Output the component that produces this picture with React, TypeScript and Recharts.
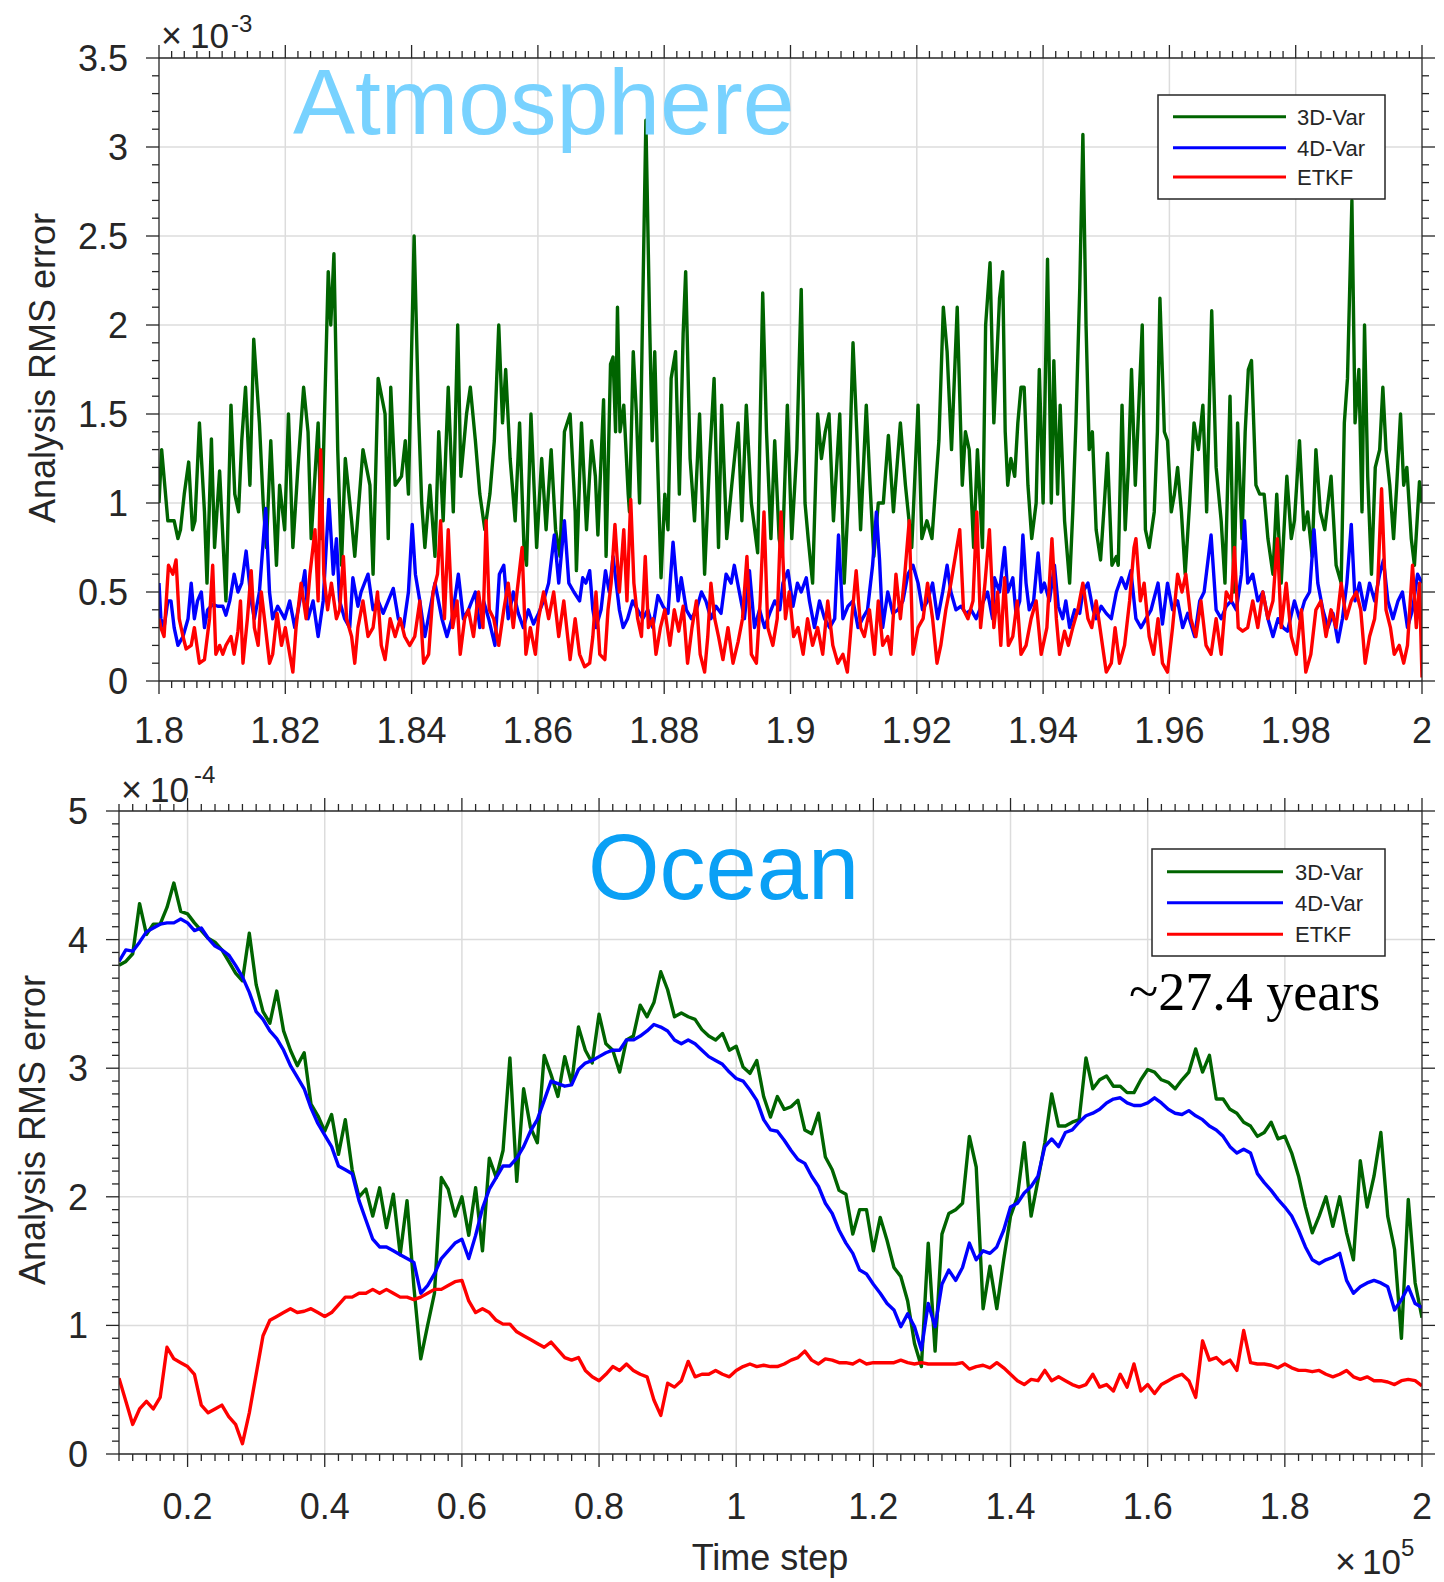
import React from "react";
import { LineChart, Line, XAxis, YAxis, ReferenceLine } from "recharts";

// Values are in units of the axis multiplier: x10^-3 (atmosphere), x10^-4 (ocean).
// Atmosphere series: [time step, analysis RMS error]
const atmos3DVar: [number, number][] = [
  [180000, 1.0], [180042, 1.3], [180140, 0.9], [180240, 0.9], [180300, 0.8], [180340, 0.85], [180400, 1.05], [180470, 1.23],
  [180530, 0.85], [180570, 0.9], [180640, 1.45], [180720, 0.95], [180760, 0.55], [180830, 1.36], [180880, 0.75], [180960, 1.18],
  [181060, 0.45], [181140, 1.55], [181200, 1.05], [181260, 0.95], [181310, 1.35], [181370, 1.65], [181440, 1.1], [181500, 1.92],
  [181590, 1.45], [181650, 1.0], [181700, 0.75], [181770, 1.35], [181860, 0.65], [181910, 1.1], [181990, 0.85], [182050, 1.5],
  [182120, 0.75], [182200, 1.2], [182290, 1.65], [182360, 1.4], [182410, 0.8], [182520, 1.45], [182570, 0.8], [182680, 2.3],
  [182720, 2.0], [182770, 2.4], [182830, 1.3], [182890, 0.65], [182950, 1.25], [183050, 0.9], [183100, 0.7], [183230, 1.3],
  [183340, 1.1], [183390, 0.6], [183470, 1.7], [183580, 1.5], [183630, 0.8], [183670, 1.65], [183740, 1.1], [183840, 1.15],
  [183900, 1.35], [183950, 1.05], [184040, 2.5], [184110, 1.5], [184160, 1.0], [184210, 0.75], [184290, 1.1], [184370, 0.7],
  [184430, 1.4], [184500, 0.9], [184580, 1.65], [184660, 0.95], [184730, 2.0], [184780, 1.15], [184870, 1.5], [184930, 1.65],
  [185010, 1.35], [185080, 1.05], [185160, 0.85], [185240, 1.05], [185310, 1.35], [185380, 2.0], [185440, 1.45], [185490, 1.75],
  [185560, 1.25], [185640, 0.9], [185710, 1.45], [185780, 0.75], [185820, 0.65], [185890, 1.5], [185980, 0.75], [186060, 1.25],
  [186130, 0.85], [186210, 1.3], [186280, 0.85], [186350, 0.7], [186420, 1.4], [186510, 1.5], [186590, 0.95], [186610, 0.62],
  [186690, 1.45], [186770, 0.85], [186850, 1.35], [186910, 1.15], [186950, 0.82], [187040, 1.58], [187080, 0.7], [187150, 1.78],
  [187190, 1.82], [187230, 1.4], [187260, 2.1], [187300, 1.4], [187360, 1.55], [187430, 1.05], [187450, 0.95], [187510, 1.85],
  [187560, 1.5], [187610, 1.0], [187650, 1.9], [187710, 3.15], [187770, 2.0], [187810, 1.35], [187850, 1.85], [187890, 1.3],
  [187950, 0.58], [188010, 1.05], [188060, 0.85], [188110, 1.7], [188180, 1.85], [188240, 1.05], [188300, 1.95], [188340, 2.3],
  [188410, 1.25], [188480, 0.9], [188560, 1.5], [188640, 0.6], [188720, 1.25], [188790, 1.7], [188860, 0.75], [188910, 1.55],
  [188990, 0.8], [189070, 1.1], [189170, 1.45], [189230, 0.9], [189300, 1.55], [189380, 1.0], [189480, 0.72], [189560, 2.18],
  [189620, 1.4], [189690, 0.8], [189750, 1.35], [189820, 0.8], [189870, 0.7], [189950, 1.55], [190020, 0.8], [190100, 1.3],
  [190170, 2.2], [190230, 1.0], [190280, 0.8], [190350, 0.55], [190430, 1.5], [190490, 1.25], [190550, 1.4], [190610, 1.5],
  [190680, 0.9], [190780, 1.5], [190850, 0.55], [190920, 1.05], [190990, 1.9], [191050, 1.4], [191110, 0.85], [191200, 1.55],
  [191260, 1.1], [191320, 0.7], [191390, 1.0], [191470, 1.0], [191550, 1.38], [191630, 0.95], [191740, 1.45], [191820, 1.1],
  [191920, 0.75], [192020, 1.55], [192080, 0.8], [192160, 0.9], [192240, 0.8], [192350, 1.35], [192420, 2.1], [192480, 1.85],
  [192550, 1.3], [192640, 2.1], [192720, 1.1], [192770, 1.4], [192830, 1.3], [192900, 0.75], [192960, 1.3], [193040, 0.75],
  [193090, 2.0], [193160, 2.35], [193220, 1.45], [193310, 2.15], [193360, 2.3], [193400, 1.4], [193440, 1.1], [193490, 1.25],
  [193550, 1.15], [193600, 1.45], [193650, 1.65], [193700, 1.65], [193760, 1.1], [193820, 0.8], [193890, 1.0], [193940, 1.75],
  [194000, 1.0], [194070, 2.37], [194130, 1.0], [194170, 1.8], [194230, 1.05], [194270, 1.55], [194340, 0.9], [194420, 0.55],
  [194470, 0.95], [194520, 1.45], [194580, 2.2], [194630, 3.07], [194680, 2.0], [194730, 1.3], [194780, 1.4], [194840, 0.85],
  [194910, 0.68], [194970, 1.0], [195020, 1.28], [195090, 0.65], [195160, 0.7], [195190, 0.65], [195250, 1.55], [195300, 0.85],
  [195350, 1.2], [195400, 1.75], [195460, 1.1], [195510, 1.5], [195570, 2.0], [195620, 0.85], [195680, 0.75], [195760, 0.95],
  [195810, 1.4], [195850, 2.15], [195920, 1.4], [195970, 1.35], [196030, 0.95], [196080, 1.05], [196130, 1.2], [196190, 0.95],
  [196250, 0.6], [196320, 1.0], [196390, 1.45], [196460, 1.3], [196530, 1.55], [196590, 0.95], [196670, 2.08], [196740, 1.2],
  [196820, 0.9], [196880, 0.55], [196960, 1.6], [197020, 0.5], [197080, 1.45], [197150, 0.8], [197200, 1.4], [197250, 1.75],
  [197300, 1.8], [197370, 1.1], [197430, 1.05], [197500, 1.05], [197560, 0.8], [197640, 0.6], [197700, 1.05], [197770, 0.55],
  [197860, 1.15], [197930, 0.8], [197980, 0.9], [198060, 1.35], [198130, 0.85], [198190, 0.95], [198260, 0.7], [198320, 1.3],
  [198390, 0.95], [198460, 0.85], [198560, 1.15], [198640, 0.65], [198720, 0.55], [198770, 1.45], [198820, 1.7], [198890, 2.7],
  [198940, 1.45], [199000, 1.75], [199050, 0.95], [199090, 2.0], [199140, 1.15], [199200, 0.6], [199260, 1.2], [199330, 1.3],
  [199380, 1.65], [199430, 1.3], [199490, 1.1], [199550, 0.8], [199600, 1.1], [199660, 1.5], [199710, 1.1], [199760, 1.2],
  [199830, 0.8], [199880, 0.65], [199960, 1.12], [200000, 1.0],
];

const atmos4DVar: [number, number][] = [
  [180000, 0.55], [180030, 0.35], [180080, 0.3], [180140, 0.45], [180190, 0.45], [180240, 0.3], [180300, 0.2], [180380, 0.25],
  [180460, 0.35], [180510, 0.55], [180560, 0.35], [180610, 0.45], [180670, 0.5], [180720, 0.3], [180770, 0.4], [180850, 0.43],
  [180930, 0.42], [181010, 0.42], [181060, 0.37], [181120, 0.45], [181190, 0.6], [181250, 0.5], [181310, 0.55], [181380, 0.73],
  [181460, 0.45], [181510, 0.35], [181590, 0.5], [181690, 0.97], [181750, 0.5], [181800, 0.35], [181880, 0.42], [181990, 0.35],
  [182070, 0.45], [182150, 0.3], [182230, 0.45], [182310, 0.62], [182360, 0.35], [182440, 0.45], [182520, 0.25], [182600, 0.45],
  [182690, 1.02], [182760, 0.6], [182810, 0.8], [182860, 0.45], [182940, 0.35], [183020, 0.3], [183070, 0.58], [183150, 0.42],
  [183200, 0.5], [183310, 0.6], [183390, 0.4], [183470, 0.45], [183550, 0.38], [183630, 0.45], [183710, 0.52], [183790, 0.35],
  [183870, 0.3], [183950, 0.5], [184010, 0.88], [184060, 0.6], [184130, 0.45], [184210, 0.25], [184290, 0.4], [184370, 0.55],
  [184480, 0.35], [184560, 0.25], [184640, 0.35], [184740, 0.6], [184820, 0.35], [184900, 0.4], [185010, 0.5], [185080, 0.3],
  [185140, 0.45], [185220, 0.35], [185320, 0.2], [185390, 0.6], [185460, 0.65], [185530, 0.35], [185610, 0.5], [185690, 0.38],
  [185770, 0.3], [185850, 0.4], [185930, 0.32], [186010, 0.38], [186090, 0.45], [186170, 0.55], [186260, 0.82], [186330, 0.55],
  [186420, 0.9], [186490, 0.55], [186570, 0.5], [186660, 0.45], [186710, 0.58], [186760, 0.55], [186820, 0.62], [186870, 0.4],
  [186920, 0.3], [187000, 0.4], [187070, 0.62], [187130, 0.5], [187190, 0.7], [187240, 0.55], [187290, 0.4], [187350, 0.3],
  [187420, 0.35], [187500, 0.45], [187580, 0.4], [187660, 0.35], [187740, 0.4], [187820, 0.3], [187900, 0.48], [187980, 0.42],
  [188060, 0.38], [188140, 0.78], [188220, 0.45], [188270, 0.58], [188350, 0.4], [188430, 0.35], [188510, 0.4], [188590, 0.5],
  [188660, 0.45], [188740, 0.35], [188820, 0.42], [188900, 0.38], [188980, 0.6], [189060, 0.55], [189110, 0.65], [189190, 0.5],
  [189270, 0.35], [189350, 0.62], [189430, 0.3], [189510, 0.4], [189590, 0.3], [189670, 0.38], [189750, 0.45], [189830, 0.4],
  [189880, 0.55], [189960, 0.62], [190040, 0.42], [190110, 0.55], [190170, 0.5], [190250, 0.58], [190300, 0.45], [190380, 0.3],
  [190460, 0.45], [190540, 0.35], [190620, 0.3], [190700, 0.35], [190760, 0.82], [190830, 0.35], [190910, 0.42], [190990, 0.45],
  [191070, 0.3], [191140, 0.35], [191220, 0.4], [191300, 0.65], [191360, 0.95], [191410, 0.68], [191460, 0.3], [191540, 0.5],
  [191620, 0.38], [191700, 0.4], [191780, 0.45], [191860, 0.6], [191940, 0.65], [192020, 0.55], [192090, 0.4], [192170, 0.45],
  [192250, 0.55], [192330, 0.35], [192410, 0.5], [192480, 0.65], [192540, 0.5], [192620, 0.4], [192700, 0.42], [192780, 0.38],
  [192860, 0.4], [192940, 0.35], [193020, 0.42], [193120, 0.5], [193200, 0.35], [193230, 0.58], [193310, 0.5], [193390, 0.75],
  [193440, 0.5], [193520, 0.58], [193570, 0.38], [193630, 0.45], [193680, 0.82], [193730, 0.55], [193780, 0.4], [193850, 0.45],
  [193920, 0.72], [193970, 0.5], [194020, 0.55], [194100, 0.45], [194180, 0.65], [194240, 0.42], [194310, 0.35], [194360, 0.45],
  [194420, 0.3], [194500, 0.4], [194580, 0.38], [194630, 0.5], [194710, 0.55], [194790, 0.4], [194840, 0.35], [194920, 0.42],
  [195000, 0.38], [195080, 0.35], [195160, 0.5], [195240, 0.58], [195310, 0.52], [195390, 0.62], [195470, 0.35], [195550, 0.3],
  [195630, 0.35], [195710, 0.4], [195820, 0.55], [195890, 0.32], [195970, 0.55], [196050, 0.4], [196130, 0.45], [196210, 0.3],
  [196290, 0.38], [196400, 0.25], [196480, 0.45], [196550, 0.5], [196660, 0.82], [196740, 0.4], [196820, 0.35], [196900, 0.42],
  [196980, 0.45], [197060, 0.4], [197140, 0.6], [197190, 0.9], [197240, 0.55], [197320, 0.6], [197400, 0.45], [197480, 0.5],
  [197560, 0.35], [197640, 0.25], [197720, 0.35], [197800, 0.3], [197870, 0.28], [197980, 0.45], [198060, 0.35], [198140, 0.45],
  [198220, 0.5], [198290, 0.85], [198350, 0.55], [198430, 0.4], [198510, 0.3], [198590, 0.38], [198670, 0.22], [198740, 0.35],
  [198810, 0.55], [198880, 0.88], [198940, 0.45], [199010, 0.55], [199090, 0.4], [199170, 0.55], [199250, 0.45], [199330, 0.6],
  [199390, 0.68], [199460, 0.45], [199540, 0.35], [199620, 0.45], [199690, 0.5], [199770, 0.3], [199850, 0.4], [199930, 0.6],
  [200000, 0.55],
];

const atmosETKF: [number, number][] = [
  [180000, 0.35], [180030, 0.3], [180080, 0.25], [180150, 0.65], [180220, 0.6], [180270, 0.68], [180320, 0.35], [180380, 0.25],
  [180430, 0.18], [180510, 0.2], [180560, 0.3], [180640, 0.1], [180720, 0.12], [180800, 0.35], [180850, 0.65], [180900, 0.15],
  [180960, 0.2], [181010, 0.15], [181060, 0.2], [181140, 0.25], [181190, 0.15], [181250, 0.28], [181290, 0.45], [181330, 0.1],
  [181400, 0.35], [181460, 0.62], [181510, 0.3], [181570, 0.2], [181620, 0.5], [181670, 0.35], [181750, 0.1], [181800, 0.15],
  [181870, 0.38], [181940, 0.2], [182000, 0.3], [182070, 0.15], [182120, 0.05], [182170, 0.3], [182250, 0.55], [182330, 0.35],
  [182390, 0.6], [182470, 0.85], [182520, 0.45], [182560, 1.3], [182610, 0.6], [182670, 0.4], [182730, 0.55], [182810, 0.35],
  [182860, 0.4], [182920, 0.7], [182970, 0.35], [183050, 0.25], [183100, 0.1], [183150, 0.3], [183230, 0.45], [183310, 0.25],
  [183390, 0.3], [183460, 0.5], [183520, 0.2], [183580, 0.12], [183660, 0.35], [183740, 0.25], [183820, 0.35], [183890, 0.25],
  [183970, 0.2], [184050, 0.25], [184130, 0.45], [184190, 0.1], [184270, 0.15], [184340, 0.5], [184410, 0.6], [184460, 0.9],
  [184520, 0.35], [184580, 0.85], [184650, 0.3], [184720, 0.45], [184770, 0.15], [184840, 0.35], [184900, 0.4], [184980, 0.25],
  [185060, 0.5], [185130, 0.3], [185180, 0.9], [185230, 0.4], [185300, 0.35], [185380, 0.2], [185460, 0.4], [185530, 0.55],
  [185610, 0.3], [185670, 0.5], [185750, 0.75], [185810, 0.15], [185880, 0.3], [185960, 0.15], [186010, 0.35], [186090, 0.5],
  [186170, 0.35], [186250, 0.5], [186330, 0.25], [186410, 0.45], [186510, 0.12], [186590, 0.35], [186660, 0.15], [186740, 0.08],
  [186820, 0.1], [186870, 0.25], [186920, 0.5], [186980, 0.15], [187060, 0.12], [187110, 0.4], [187160, 0.55], [187220, 0.88],
  [187290, 0.5], [187360, 0.85], [187410, 0.45], [187470, 1.02], [187520, 0.55], [187580, 0.35], [187640, 0.25], [187700, 0.7],
  [187750, 0.3], [187820, 0.35], [187870, 0.15], [187940, 0.3], [188010, 0.4], [188090, 0.2], [188160, 0.4], [188230, 0.28],
  [188300, 0.42], [188370, 0.1], [188440, 0.3], [188510, 0.45], [188570, 0.15], [188640, 0.05], [188690, 0.25], [188740, 0.55],
  [188800, 0.35], [188860, 0.25], [188930, 0.12], [189010, 0.3], [189090, 0.1], [189170, 0.22], [189240, 0.35], [189310, 0.7],
  [189380, 0.15], [189460, 0.1], [189520, 0.45], [189580, 0.95], [189640, 0.3], [189720, 0.2], [189790, 0.35], [189850, 0.95],
  [189920, 0.35], [189980, 0.5], [190050, 0.25], [190120, 0.3], [190200, 0.15], [190270, 0.35], [190350, 0.2], [190430, 0.3],
  [190510, 0.15], [190590, 0.45], [190670, 0.2], [190750, 0.1], [190830, 0.15], [190900, 0.05], [190970, 0.35], [191040, 0.62],
  [191110, 0.3], [191170, 0.25], [191250, 0.4], [191330, 0.15], [191390, 0.45], [191460, 0.2], [191540, 0.25], [191590, 0.15],
  [191670, 0.6], [191740, 0.35], [191810, 0.6], [191880, 0.9], [191940, 0.15], [192020, 0.3], [192100, 0.35], [192170, 0.55],
  [192250, 0.35], [192320, 0.1], [192380, 0.2], [192460, 0.4], [192540, 0.55], [192610, 0.7], [192680, 0.85], [192740, 0.4],
  [192810, 0.35], [192890, 0.45], [192950, 0.95], [193010, 0.3], [193080, 0.55], [193150, 0.85], [193220, 0.3], [193280, 0.5],
  [193330, 0.2], [193390, 0.58], [193450, 0.2], [193520, 0.25], [193590, 0.45], [193650, 0.15], [193730, 0.2], [193810, 0.35],
  [193890, 0.45], [193970, 0.15], [194060, 0.3], [194140, 0.8], [194210, 0.35], [194260, 0.15], [194340, 0.28], [194400, 0.2],
  [194470, 0.3], [194550, 0.4], [194630, 0.55], [194710, 0.35], [194770, 0.3], [194840, 0.45], [194920, 0.25], [195000, 0.05],
  [195080, 0.1], [195140, 0.3], [195210, 0.1], [195290, 0.2], [195370, 0.45], [195440, 0.75], [195470, 0.8], [195540, 0.45],
  [195600, 0.55], [195680, 0.25], [195750, 0.15], [195820, 0.35], [195890, 0.1], [195970, 0.05], [196050, 0.3], [196130, 0.6],
  [196200, 0.5], [196260, 0.6], [196340, 0.35], [196420, 0.25], [196500, 0.45], [196580, 0.2], [196660, 0.15], [196740, 0.35],
  [196820, 0.15], [196900, 0.5], [196980, 0.45], [197030, 0.75], [197090, 0.3], [197160, 0.28], [197240, 0.3], [197320, 0.45],
  [197400, 0.3], [197480, 0.5], [197560, 0.35], [197640, 0.45], [197710, 0.8], [197770, 0.3], [197850, 0.55], [197930, 0.25],
  [198010, 0.15], [198090, 0.4], [198160, 0.05], [198240, 0.15], [198320, 0.4], [198400, 0.45], [198480, 0.25], [198560, 0.4],
  [198640, 0.3], [198720, 0.55], [198800, 0.35], [198880, 0.45], [198960, 0.5], [199030, 0.4], [199100, 0.1], [199170, 0.25],
  [199250, 0.35], [199300, 0.55], [199360, 1.08], [199430, 0.4], [199500, 0.3], [199560, 0.15], [199640, 0.2], [199710, 0.1],
  [199770, 0.2], [199850, 0.65], [199910, 0.3], [199960, 0.55], [200000, 0.02],
];

// Ocean series: one value every 1000 time steps, from 10000 to 200000
const OCEAN_FIRST_STEP = 10000;
const OCEAN_STEP = 1000;

const ocean3DVar = [
  3.8, 3.83, 3.89, 4.28, 4.04, 4.12, 4.12, 4.25, 4.44, 4.22,
  4.2, 4.13, 4.07, 4.01, 3.98, 3.92, 3.83, 3.74, 3.68, 4.05,
  3.65, 3.44, 3.35, 3.6, 3.29, 3.14, 3.02, 3.12, 2.72, 2.63,
  2.51, 2.64, 2.33, 2.6, 2.21, 2.0, 2.06, 1.85, 2.07, 1.76,
  2.02, 1.55, 1.97, 1.3, 0.74, 1.0, 1.25, 2.15, 2.06, 1.85,
  2.0, 1.7, 2.07, 1.58, 2.3, 2.15, 2.36, 3.08, 2.12, 2.84,
  2.54, 2.42, 3.1, 2.95, 2.78, 3.09, 2.88, 3.32, 3.14, 3.04,
  3.42, 3.19, 3.14, 2.97, 3.22, 3.25, 3.49, 3.4, 3.51, 3.75,
  3.61, 3.4, 3.43, 3.4, 3.38, 3.3, 3.25, 3.22, 3.27, 3.14,
  3.17, 3.01, 2.96, 3.06, 2.78, 2.62, 2.78, 2.68, 2.7, 2.75,
  2.52, 2.49, 2.65, 2.31, 2.21, 2.05, 2.02, 1.71, 1.9, 1.9,
  1.58, 1.84, 1.66, 1.45, 1.38, 1.19, 0.86, 0.68, 1.64, 0.8,
  1.71, 1.87, 1.9, 1.95, 2.47, 2.23, 1.13, 1.46, 1.13, 1.51,
  1.85, 2.0, 2.42, 1.85, 2.13, 2.42, 2.8, 2.55, 2.55, 2.58,
  2.6, 3.08, 2.84, 2.91, 2.94, 2.86, 2.86, 2.81, 2.81, 2.91,
  2.99, 2.97, 2.91, 2.89, 2.84, 2.91, 2.97, 3.15, 2.97, 3.1,
  2.76, 2.76, 2.68, 2.65, 2.58, 2.55, 2.47, 2.5, 2.58, 2.45,
  2.47, 2.34, 2.16, 1.92, 1.72, 1.85, 2.0, 1.77, 2.0, 1.72,
  1.51, 2.28, 1.92, 2.16, 2.5, 1.85, 1.59, 0.9, 1.98, 1.33,
  1.06,
];

const ocean4DVar = [
  3.83, 3.92, 3.91, 3.98, 4.06, 4.09, 4.12, 4.13, 4.13, 4.16,
  4.13, 4.07, 4.09, 4.01, 3.95, 3.92, 3.88, 3.8, 3.71, 3.59,
  3.44, 3.38, 3.29, 3.23, 3.14, 3.02, 2.93, 2.84, 2.69, 2.57,
  2.48, 2.39, 2.24, 2.21, 2.18, 1.97, 1.82, 1.67, 1.61, 1.61,
  1.58, 1.55, 1.52, 1.49, 1.25, 1.31, 1.4, 1.52, 1.58, 1.64,
  1.67, 1.52, 1.7, 1.91, 2.06, 2.15, 2.24, 2.24, 2.3, 2.39,
  2.51, 2.6, 2.75, 2.9, 2.88, 2.86, 2.87, 2.99, 3.04, 3.06,
  3.09, 3.12, 3.14, 3.14, 3.22, 3.22, 3.25, 3.29, 3.34, 3.32,
  3.29, 3.22, 3.19, 3.22, 3.19, 3.14, 3.09, 3.06, 3.03, 2.97,
  2.92, 2.9, 2.83, 2.75, 2.6, 2.52, 2.51, 2.44, 2.36, 2.29,
  2.26, 2.16, 2.08, 1.95, 1.87, 1.74, 1.64, 1.56, 1.43, 1.4,
  1.32, 1.25, 1.17, 1.12, 0.99, 1.09, 0.99, 0.81, 1.17, 0.99,
  1.32, 1.43, 1.35, 1.45, 1.64, 1.51, 1.58, 1.56, 1.61, 1.74,
  1.92, 1.95, 2.03, 2.08, 2.16, 2.39, 2.45, 2.39, 2.5, 2.52,
  2.58, 2.63, 2.65, 2.68, 2.73, 2.76, 2.77, 2.73, 2.71, 2.71,
  2.73, 2.77, 2.73, 2.68, 2.65, 2.64, 2.67, 2.63, 2.6, 2.55,
  2.52, 2.47, 2.39, 2.34, 2.37, 2.34, 2.18, 2.11, 2.05, 1.98,
  1.92, 1.85, 1.74, 1.61, 1.51, 1.48, 1.51, 1.53, 1.56, 1.35,
  1.25, 1.3, 1.33, 1.35, 1.33, 1.3, 1.12, 1.2, 1.3, 1.17,
  1.14,
];

const oceanETKF = [
  0.59, 0.41, 0.23, 0.35, 0.41, 0.35, 0.44, 0.83, 0.74, 0.71,
  0.68, 0.62, 0.38, 0.32, 0.35, 0.38, 0.29, 0.23, 0.08, 0.32,
  0.62, 0.92, 1.04, 1.07, 1.1, 1.13, 1.1, 1.11, 1.13, 1.1,
  1.07, 1.1, 1.16, 1.22, 1.22, 1.25, 1.25, 1.28, 1.25, 1.28,
  1.25, 1.22, 1.22, 1.2, 1.22, 1.25, 1.28, 1.28, 1.31, 1.34,
  1.35, 1.19, 1.1, 1.13, 1.1, 1.04, 1.01, 1.01, 0.95, 0.92,
  0.89, 0.86, 0.83, 0.87, 0.81, 0.75, 0.73, 0.75, 0.65, 0.6,
  0.57, 0.62, 0.68, 0.65, 0.7, 0.65, 0.62, 0.6, 0.42, 0.3,
  0.55, 0.52, 0.57, 0.72, 0.6, 0.62, 0.62, 0.65, 0.62, 0.6,
  0.65, 0.68, 0.7, 0.68, 0.69, 0.68, 0.68, 0.7, 0.73, 0.75,
  0.8, 0.73, 0.7, 0.74, 0.73, 0.71, 0.71, 0.7, 0.73, 0.7,
  0.71, 0.71, 0.71, 0.71, 0.73, 0.71, 0.7, 0.71, 0.7, 0.7,
  0.7, 0.7, 0.7, 0.71, 0.66, 0.68, 0.69, 0.67, 0.71, 0.67,
  0.62, 0.57, 0.54, 0.58, 0.57, 0.65, 0.57, 0.6, 0.57, 0.54,
  0.52, 0.54, 0.62, 0.52, 0.54, 0.49, 0.62, 0.52, 0.7, 0.49,
  0.54, 0.47, 0.54, 0.57, 0.6, 0.62, 0.57, 0.44, 0.88, 0.73,
  0.75, 0.7, 0.73, 0.65, 0.96, 0.71, 0.7, 0.7, 0.69, 0.67,
  0.7, 0.67, 0.65, 0.65, 0.64, 0.65, 0.62, 0.6, 0.62, 0.65,
  0.6, 0.58, 0.6, 0.57, 0.57, 0.56, 0.54, 0.57, 0.58, 0.57,
  0.53,
];

// axes
const atmosXMajor = [180000, 182000, 184000, 186000, 188000, 190000, 192000, 194000, 196000, 198000, 200000];
const atmosYMajor = [0, 0.5, 1, 1.5, 2, 2.5, 3, 3.5];
const oceanXMajor = [20000, 40000, 60000, 80000, 100000, 120000, 140000, 160000, 180000, 200000];
const oceanYMajor = [0, 1, 2, 3, 4, 5];

const seriesNames = ["3D-Var", "4D-Var", "ETKF"];
const seriesColors = ["#006400", "#0000ff", "#ff0000"];

const INK = "#262626";
const GRID = "#dcdcdc";
const SANS = "'Liberation Sans', Arial, Helvetica, sans-serif";

function steps(from: number, to: number, step: number) {
  const out: number[] = [];
  const n = Math.round((to - from) / step);
  for (let i = 0; i <= n; i++) out.push(Math.round((from + i * step) * 1e6) / 1e6);
  return out;
}

type Side = "bottom" | "top" | "left" | "right";

function tickRenderer(side: Side, majors: number[], fmt: ((v: number) => string) | null, gap: number) {
  return (props: any) => {
    const { x, y, payload } = props;
    const v = Number(payload.value);
    const major = majors.some((m) => Math.abs(m - v) < 1e-6);
    const len = major ? 13 : 7;
    let x2 = x;
    let y2 = y;
    if (side === "bottom") y2 = y + len;
    if (side === "top") y2 = y - len;
    if (side === "left") x2 = x - len;
    if (side === "right") x2 = x + len;
    return (
      <g>
        <line x1={x} y1={y} x2={x2} y2={y2} stroke={INK} strokeWidth={1.3} />
        {major && fmt && side === "bottom" ? (
          <text x={x} y={y + gap} textAnchor="middle" fontSize={36} fontFamily={SANS} fill={INK}>
            {fmt(v)}
          </text>
        ) : null}
        {major && fmt && side === "left" ? (
          <text x={x - gap} y={y} dy="0.36em" textAnchor="end" fontSize={36} fontFamily={SANS} fill={INK}>
            {fmt(v)}
          </text>
        ) : null}
      </g>
    );
  };
}

type PanelProps = {
  top: number;
  height: number;
  yAxisWidth: number;
  margin: { top: number; right: number; bottom: number; left: number };
  series: { ts: number; v: number }[][];
  xDomain: [number, number];
  yDomain: [number, number];
  xMajor: number[];
  xMinor: number[];
  yMajor: number[];
  yMinor: number[];
  xLabelGap: number;
};

function Panel(p: PanelProps) {
  const axisLine = { stroke: INK, strokeWidth: 1.3 };
  const xFmt = (v: number) => String(Math.round(v / 100) / 1000);
  const yFmt = (v: number) => String(v);
  const gridX = p.xMajor.filter((v) => v > p.xDomain[0] && v < p.xDomain[1]);
  const gridY = p.yMajor.filter((v) => v > p.yDomain[0] && v < p.yDomain[1]);
  return (
    <div style={{ position: "absolute", left: 0, top: p.top, width: 1444, height: p.height }}>
      <LineChart width={1444} height={p.height} margin={p.margin}>
        <XAxis
          xAxisId="b"
          orientation="bottom"
          type="number"
          dataKey="ts"
          domain={p.xDomain}
          allowDataOverflow
          ticks={p.xMinor}
          interval={0}
          tickLine={false}
          tickSize={0}
          tickMargin={0}
          axisLine={axisLine}
          height={70}
          tick={tickRenderer("bottom", p.xMajor, xFmt, p.xLabelGap)}
        />
        <XAxis
          xAxisId="t"
          orientation="top"
          type="number"
          dataKey="ts"
          domain={p.xDomain}
          allowDataOverflow
          ticks={p.xMinor}
          interval={0}
          tickLine={false}
          tickSize={0}
          tickMargin={0}
          axisLine={axisLine}
          height={14}
          tick={tickRenderer("top", p.xMajor, null, 0)}
        />
        <YAxis
          yAxisId="l"
          orientation="left"
          type="number"
          domain={p.yDomain}
          allowDataOverflow
          ticks={p.yMinor}
          interval={0}
          tickLine={false}
          tickSize={0}
          tickMargin={0}
          axisLine={axisLine}
          width={p.yAxisWidth}
          tick={tickRenderer("left", p.yMajor, yFmt, 31)}
        />
        <YAxis
          yAxisId="r"
          orientation="right"
          type="number"
          domain={p.yDomain}
          allowDataOverflow
          ticks={p.yMinor}
          interval={0}
          tickLine={false}
          tickSize={0}
          tickMargin={0}
          axisLine={axisLine}
          width={14}
          tick={tickRenderer("right", p.yMajor, null, 0)}
        />
        {gridX.map((v) => (
          <ReferenceLine key={`gx${v}`} x={v} xAxisId="b" yAxisId="l" stroke={GRID} strokeWidth={1.5} />
        ))}
        {gridY.map((v) => (
          <ReferenceLine key={`gy${v}`} y={v} xAxisId="b" yAxisId="l" stroke={GRID} strokeWidth={1.5} />
        ))}
        {p.series.map((d, i) => (
          <Line
            key={seriesNames[i]}
            data={d}
            dataKey="v"
            name={seriesNames[i]}
            xAxisId={i === 1 ? "t" : "b"}
            yAxisId={i === 1 ? "r" : "l"}
            type="linear"
            stroke={seriesColors[i]}
            strokeWidth={3.4}
            strokeLinejoin="round"
            dot={false}
            activeDot={false}
            isAnimationActive={false}
          />
        ))}
      </LineChart>
    </div>
  );
}

function LegendBox({ x, y, w, h, rowY, lineX0, lineX1, textX }: { x: number; y: number; w: number; h: number; rowY: number[]; lineX0: number; lineX1: number; textX: number }) {
  return (
    <g>
      <rect x={x} y={y} width={w} height={h} fill="#ffffff" stroke={INK} strokeWidth={1.5} />
      {seriesNames.map((name, i) => (
        <g key={name}>
          <line x1={x + lineX0} x2={x + lineX1} y1={y + rowY[i]} y2={y + rowY[i]} stroke={seriesColors[i]} strokeWidth={3} />
          <text x={x + textX} y={y + rowY[i]} dy="0.36em" fontSize={22} fontFamily={SANS} fill={INK}>
            {name}
          </text>
        </g>
      ))}
    </g>
  );
}

const toPoints = (pairs: [number, number][]) => pairs.map(([ts, v]) => ({ ts, v }));
const toOcean = (vals: number[]) => vals.map((v, i) => ({ ts: OCEAN_FIRST_STEP + i * OCEAN_STEP, v }));

export default function App() {
  const atmos = [toPoints(atmos3DVar), toPoints(atmos4DVar), toPoints(atmosETKF)];
  const ocean = [toOcean(ocean3DVar), toOcean(ocean4DVar), toOcean(oceanETKF)];
  return (
    <div style={{ position: "absolute", left: 0, top: 0, width: 1444, height: 1582, background: "#ffffff", overflow: "hidden" }}>
      <Panel
        top={0}
        height={760}
        yAxisWidth={150}
        margin={{ top: 44, right: 8, bottom: 9, left: 9 }}
        series={atmos}
        xDomain={[180000, 200000]}
        yDomain={[0, 3.5]}
        xMajor={atmosXMajor}
        xMinor={steps(180000, 200000, 200)}
        yMajor={atmosYMajor}
        yMinor={steps(0, 3.5, 0.1)}
        xLabelGap={62}
      />
      <Panel
        top={760}
        height={822}
        yAxisWidth={110}
        margin={{ top: 37, right: 8, bottom: 58, left: 9 }}
        series={ocean}
        xDomain={[10000, 200000]}
        yDomain={[0, 5]}
        xMajor={oceanXMajor}
        xMinor={steps(10000, 200000, 2000)}
        yMajor={oceanYMajor}
        yMinor={steps(0, 5, 0.1)}
        xLabelGap={65}
      />
      <svg width={1444} height={1582} style={{ position: "absolute", left: 0, top: 0, pointerEvents: "none" }}>
        <g fontFamily={SANS} fill={INK}>
          <text x={161} y={48} fontSize={36}>×</text>
          <text x={190} y={48} fontSize={35}>10</text>
          <text x={231} y={32} fontSize={24}>-3</text>
          <text x={121} y={802} fontSize={36}>×</text>
          <text x={150} y={802} fontSize={35}>10</text>
          <text x={194} y={783} fontSize={24}>-4</text>
          <text x={1335} y={1574} fontSize={36}>×</text>
          <text x={1362} y={1574} fontSize={35}>10</text>
          <text x={1401} y={1556} fontSize={24}>5</text>
          <text x={770} y={1570} fontSize={36} textAnchor="middle">Time step</text>
          <text transform="translate(55,368) rotate(-90)" fontSize={36} textAnchor="middle">Analysis RMS error</text>
          <text transform="translate(45,1130) rotate(-90)" fontSize={36} textAnchor="middle">Analysis RMS error</text>
        </g>
        <text x={293} y={134} fontSize={93} fontFamily={SANS} fill="#78d2ff">Atmosphere</text>
        <text x={588} y={899} fontSize={92} fontFamily={SANS} fill="#0aa0f5">Ocean</text>
        <text x={1129} y={1010} fontSize={54} fontFamily="'Liberation Serif', 'Times New Roman', serif" fill="#000000">~27.4 years</text>
        <LegendBox x={1158} y={95} w={227} h={104} rowY={[21.7, 52.7, 82]} lineX0={15} lineX1={128} textX={139} />
        <LegendBox x={1152} y={849} w={233} h={107} rowY={[22.7, 53.7, 85.3]} lineX0={15} lineX1={131} textX={143} />
      </svg>
    </div>
  );
}
